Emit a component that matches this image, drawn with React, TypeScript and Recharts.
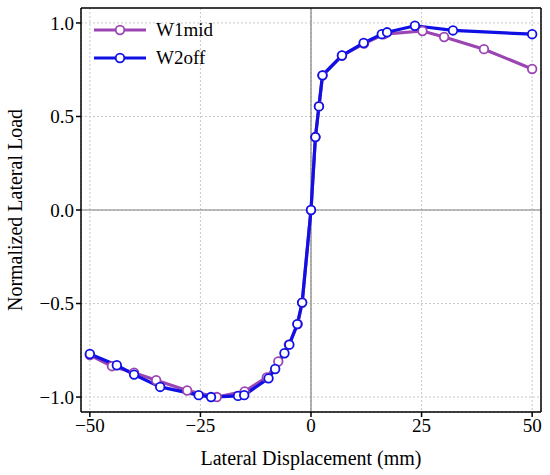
import React from "react";
import {
  CartesianGrid,
  Line,
  LineChart,
  ReferenceLine,
  XAxis,
  YAxis,
} from "recharts";

// lateral displacement (mm) / normalized load
const w1midX = [-50, -45, -40, -35, -28, -21.3, -15, -10, -7.4, -5, -3, -2, 0, 1, 1.8, 2.6, 7, 12, 16.5, 25.2, 30.1, 39.1, 50];
const w1midY = [-0.775, -0.835, -0.87, -0.91, -0.965, -1.0, -0.97, -0.895, -0.81, -0.72, -0.61, -0.495, 0, 0.39, 0.555, 0.72, 0.825, 0.89, 0.94, 0.957, 0.925, 0.86, 0.754];

const w2offX = [-50, -43.9, -40, -34.1, -25.4, -22.6, -16.5, -15.1, -9.6, -8.1, -6, -4.9, -3.1, -2, 0, 1, 1.8, 2.6, 7, 11.9, 16, 17.2, 23.5, 32.1, 50];
const w2offY = [-0.77, -0.83, -0.88, -0.946, -0.99, -1.0, -0.994, -0.99, -0.9, -0.85, -0.766, -0.72, -0.61, -0.495, 0, 0.39, 0.554, 0.72, 0.826, 0.893, 0.94, 0.95, 0.985, 0.96, 0.94];

const xTicks = [-50, -25, 0, 25, 50];
const yTicks = [-1, -0.5, 0, 0.5, 1];

const seriesNames = ["W1mid", "W2off"];
const colors = ["#9b45b3", "#1010e6"];

const toRows = (xs: number[], ys: number[]) => xs.map((x, i) => ({ x, y: ys[i] }));

const w1mid = toRows(w1midX, w1midY);
const w2off = toRows(w2offX, w2offY);

const font = "'Liberation Serif', 'Times New Roman', serif";
const minus = (s: string) => s.replace("-", "\u2212");

const Legend = () => (
  <div style={{ position: "absolute", left: 94, top: 16, fontFamily: font, fontSize: 19 }}>
    {seriesNames.map((name, i) => (
      <div key={name} style={{ display: "flex", alignItems: "center", height: 28 }}>
        <svg width={52} height={14}>
          <line x1={0} y1={7} x2={52} y2={7} stroke={colors[i]} strokeWidth={3.2} />
          <circle cx={26} cy={7} r={4.3} fill="#fff" stroke={colors[i]} strokeWidth={1.8} />
        </svg>
        <span style={{ marginLeft: 10 }}>{name}</span>
      </div>
    ))}
  </div>
);

export default function App() {
  const dot = (c: string) => ({ r: 4.3, fill: "#fff", stroke: c, strokeWidth: 1.8 });
  return (
    <div style={{ position: "absolute", left: 0, top: 0, width: 550, height: 475, background: "#fff" }}>
      <LineChart width={550} height={475} margin={{ top: 8, right: 9, left: 0, bottom: 0 }}>
        <CartesianGrid strokeDasharray="2 2" stroke="#c8c8c8" />
        <XAxis
          type="number"
          dataKey="x"
          domain={[-52, 52]}
          ticks={xTicks}
          allowDataOverflow
          stroke="#000"
          strokeWidth={1.5}
          tickSize={5}
          tick={{ fill: "#000", fontSize: 19, fontFamily: font }}
          tickFormatter={(v: number) => minus(String(v))}
          height={63}
          label={{ value: "Lateral Displacement (mm)", position: "insideBottom", offset: 10, fill: "#000", fontSize: 20, fontFamily: font }}
        />
        <YAxis
          type="number"
          domain={[-1.08, 1.08]}
          ticks={yTicks}
          allowDataOverflow
          stroke="#000"
          strokeWidth={1.5}
          tickSize={5}
          width={81}
          tick={{ fill: "#000", fontSize: 19, fontFamily: font }}
          tickFormatter={(v: number) => minus(v.toFixed(1))}
          label={{ value: "Normalized Lateral Load", angle: -90, position: "insideLeft", offset: 15, style: { textAnchor: "middle" }, fill: "#000", fontSize: 20, fontFamily: font }}
        />
        <ReferenceLine x={0} stroke="#808080" strokeWidth={1.2} />
        <ReferenceLine y={0} stroke="#808080" strokeWidth={1.2} />
        <ReferenceLine x={52} stroke="#000" strokeWidth={1.5} />
        <ReferenceLine y={1.08} stroke="#000" strokeWidth={1.5} />
        <Line
          data={w1mid}
          dataKey="y"
          name={seriesNames[0]}
          stroke={colors[0]}
          strokeWidth={3.2}
          dot={dot(colors[0])}
          isAnimationActive={false}
        />
        <Line
          data={w2off}
          dataKey="y"
          name={seriesNames[1]}
          stroke={colors[1]}
          strokeWidth={3.2}
          dot={dot(colors[1])}
          isAnimationActive={false}
        />
      </LineChart>
      <Legend />
    </div>
  );
}
